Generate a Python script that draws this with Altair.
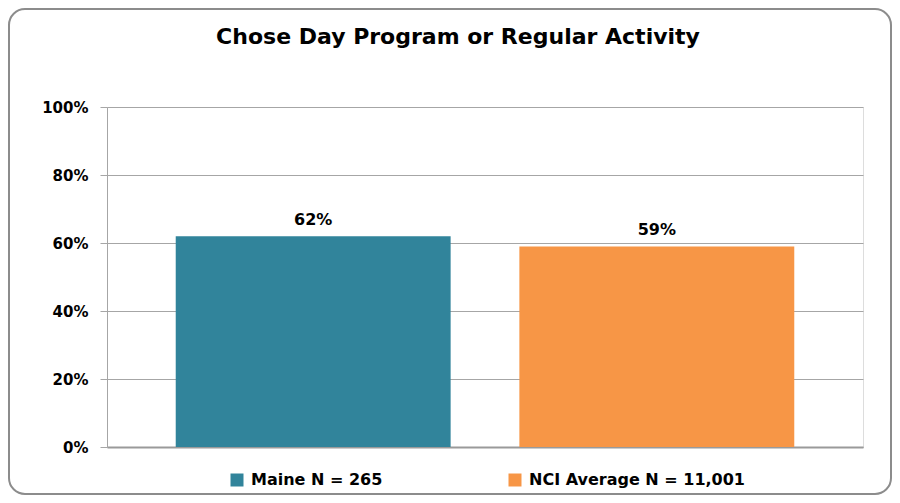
import altair as alt
import pandas as pd

groups = ["Maine N = 265", "NCI Average N = 11,001"]
values = [0.62, 0.59]
bar_labels = ["62%", "59%"]
colors = ["#31849b", "#f79646"]
y_ticks = [0, 0.2, 0.4, 0.6, 0.8, 1.0]
title_text = "Chose Day Program or Regular Activity"

FONT = "DejaVu Sans"

df = pd.DataFrame({"group": groups, "value": values, "label": bar_labels})

x_enc = alt.X(
    "group:N",
    sort=groups,
    scale=alt.Scale(paddingInner=0.2, paddingOuter=0.2),
    axis=alt.Axis(labels=False, ticks=False, title=None, domainColor="#9a9a9a",
                  domainWidth=2, grid=False),
)
y_enc = alt.Y(
    "value:Q",
    scale=alt.Scale(domain=[0, 1], nice=False),
    axis=alt.Axis(values=y_ticks, format=".0%", title=None, labelFont=FONT,
                  labelFontWeight="bold", labelFontSize=15, labelColor="#000000",
                  labelPadding=12, tickSize=7, tickColor="#a6a6a6",
                  gridColor="#a6a6a6", gridWidth=1, domainColor="#a6a6a6"),
)

bars = alt.Chart(df).mark_bar().encode(
    x=x_enc,
    y=y_enc,
    color=alt.Color(
        "group:N",
        scale=alt.Scale(domain=groups, range=colors),
        legend=alt.Legend(
            title=None, orient="none", direction="horizontal",
            legendX=122, legendY=365, symbolType="square", symbolSize=169,
            symbolStrokeWidth=0, labelFont=FONT, labelFontWeight="bold",
            labelFontSize=16, labelColor="#000000", labelOffset=6,
            labelLimit=400, columnPadding=124,
        ),
    ),
)

text = alt.Chart(df).mark_text(
    font=FONT, fontWeight="bold", fontSize=16, color="#000000",
    baseline="alphabetic", dy=-11,
).encode(x=alt.X("group:N", sort=groups), y="value:Q", text="label:N")

frame = alt.Chart(pd.DataFrame({"f": [0]})).mark_rect(
    filled=False, stroke="#8c8c8c", strokeWidth=2, cornerRadius=16,
).encode(
    x=alt.value(-98), x2=alt.value(784), y=alt.value(-98), y2=alt.value(387),
)

chart = alt.layer(bars, text, frame).properties(
    width=756, height=340,
    title=alt.TitleParams(title_text, font=FONT, fontSize=22, fontWeight="bold",
                          color="#000000", anchor="middle", baseline="alphabetic",
                          offset=0, dy=58, dx=-27),
    autosize=alt.AutoSizeParams(type="none"),
    padding={"left": 99, "top": 99, "right": 29, "bottom": 48},
).configure_view(fill="#ebebeb", stroke=None).configure(background="#ffffff")

chart.save("out.html", embed_options={"renderer": "svg", "actions": False})
